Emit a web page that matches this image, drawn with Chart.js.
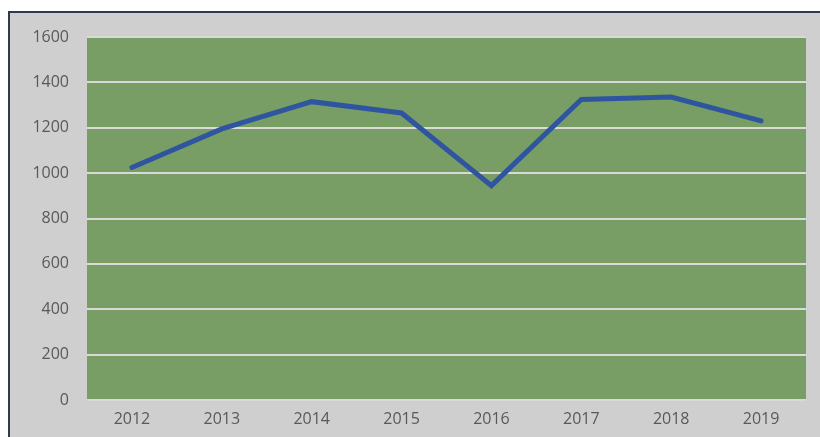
<!DOCTYPE html>
<html>
<head>
<meta charset="utf-8">
<script src="https://cdn.jsdelivr.net/npm/chart.js@4/dist/chart.umd.min.js"></script>
<style>
    html, body { margin: 0; padding: 0; background: #fff; }
    body { width: 820px; height: 437px; position: relative; overflow: hidden; }
    #frame {
        position: absolute; left: 8px; top: 11px; width: 812px; height: 426px;
        background: #d0cfcf;
        border-top: 2px solid #2e3a50;
        border-left: 2px solid #2e3a50;
    }
    canvas { display: block; }
</style>
</head>
<body>
<div id="frame"><canvas id="lineChart" width="810" height="424"></canvas></div>
<script>
// Data
const years = ['2012', '2013', '2014', '2015', '2016', '2017', '2018', '2019'];
const values = [1025, 1195, 1315, 1265, 945, 1325, 1335, 1230];
const yTicks = [0, 200, 400, 600, 800, 1000, 1200, 1400, 1600];

// Paint the green plot area behind the line
const plotBackground = {
    id: 'plotBackground',
    beforeDraw(chart) {
        const { ctx, chartArea } = chart;
        ctx.save();
        ctx.fillStyle = '#789d65';
        ctx.fillRect(chartArea.left, chartArea.top, chartArea.right - chartArea.left, chartArea.bottom - chartArea.top);
        ctx.restore();
    }
};

const ctx = document.getElementById('lineChart').getContext('2d');
new Chart(ctx, {
    type: 'line',
    data: {
        labels: years,
        datasets: [{
            data: values,
            borderColor: '#2f55a0',
            borderWidth: 5,
            pointRadius: 0,
            tension: 0,
            borderCapStyle: 'round',
            borderJoinStyle: 'miter'
        }]
    },
    options: {
        responsive: false,
        animation: false,
        layout: { padding: { top: 24, right: 14, left: 0, bottom: 0 } },
        plugins: {
            legend: { display: false },
            tooltip: { enabled: false }
        },
        scales: {
            x: {
                offset: true,
                grid: { display: false, drawTicks: false },
                border: { display: false },
                ticks: {
                    color: '#595959',
                    padding: 10,
                    font: { family: "'Open Sans', sans-serif", size: 16 }
                },
                afterFit(scale) {
                    scale.height = 37;
                    scale.paddingLeft = 0;
                    scale.paddingRight = 0;
                }
            },
            y: {
                min: 0,
                max: 1600,
                afterBuildTicks(scale) { scale.ticks = yTicks.map(v => ({ value: v })); },
                grid: { color: '#d9d9d9', lineWidth: 2, drawTicks: false },
                border: { display: false },
                ticks: {
                    color: '#595959',
                    padding: 18,
                    font: { family: "'Open Sans', sans-serif", size: 16 },
                    callback: v => String(v)
                },
                afterFit(scale) {
                    scale.width = 77;
                    scale.paddingTop = 0;
                    scale.paddingBottom = 0;
                }
            }
        }
    },
    plugins: [plotBackground]
});
</script>
</body>
</html>
